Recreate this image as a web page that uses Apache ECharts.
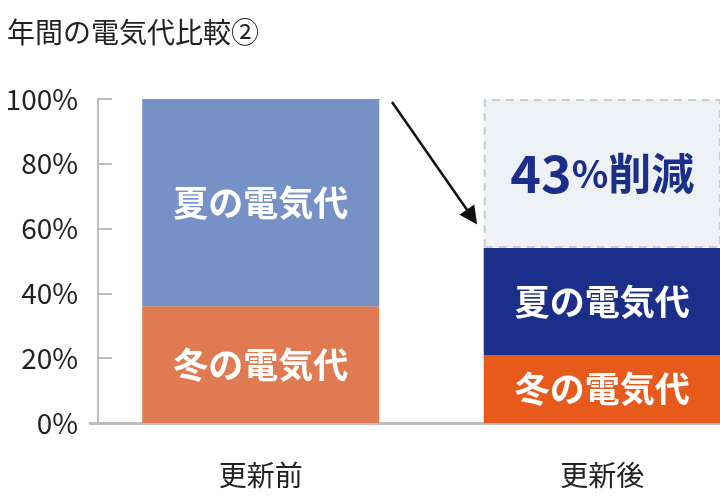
<!DOCTYPE html>
<html>
<head>
<meta charset="utf-8">
<script src="https://cdn.jsdelivr.net/npm/echarts@6/dist/echarts.min.js"></script>
<style>
  html, body { margin: 0; padding: 0; background: #fff; }
  #chart { width: 720px; height: 498px; }
</style>
</head>
<body>
<div id="chart"></div>
<script>
// データ（％）
var categories = ['更新前', '更新後'];
var winterValues = [36, 21];     // 冬の電気代
var summerValues = [64, 33];     // 夏の電気代
var reducedValues = ['-', 46];   // 削減分（空白部分）
var yTicks = [0, 20, 40, 60, 80, 100];

var winterColors = ['#e07a52', '#e85a1c'];
var summerColors = ['#7591c6', '#1b2f8a'];

var FONT = 'Noto Sans CJK JP';

var myChart = echarts.init(document.getElementById('chart'));

function barLabel(text, color) {
    return {
        show: true,
        position: 'inside',
        formatter: text,
        color: color,
        fontFamily: FONT,
        fontWeight: 'bold',
        fontSize: 35
    };
}

var option = {
    animation: false,
    textStyle: { fontFamily: FONT },
    title: {
        text: '年間の電気代比較②',
        left: 2,
        top: 13,
        textStyle: {
            fontFamily: FONT,
            fontSize: 28,
            fontWeight: 'normal',
            color: '#222'
        }
    },
    // 右側のバーは画面の端まで届くので、グリッドは画面外まで伸ばす
    grid: {
        left: 90,
        right: -53,
        top: 99,
        bottom: 75,
        containLabel: false,
        outerBoundsMode: 'none'
    },
    xAxis: {
        type: 'category',
        data: categories,
        axisLine: { show: true, lineStyle: { color: '#bdbdbd', width: 3 } },
        axisTick: { show: false },
        axisLabel: {
            margin: 38,
            fontSize: 28,
            color: '#222',
            fontFamily: FONT
        }
    },
    yAxis: {
        type: 'value',
        min: 0,
        max: 100,
        interval: 20,
        offset: -8,
        splitLine: { show: false },
        axisLine: { show: true, lineStyle: { color: '#bdbdbd', width: 2 } },
        axisTick: { show: true, inside: true, length: 14, lineStyle: { color: '#bdbdbd', width: 2 } },
        axisLabel: {
            margin: 20,
            fontSize: 28,
            color: '#222',
            fontFamily: FONT,
            formatter: function (v) { return yTicks.indexOf(v) >= 0 ? v + '%' : ''; }
        }
    },
    series: [
        {
            name: '冬の電気代',
            type: 'bar',
            stack: 'total',
            barWidth: 237,
            z: 3,
            data: winterValues.map(function (v, i) {
                return { value: v, itemStyle: { color: winterColors[i] } };
            }),
            label: barLabel('冬の電気代', '#fff')
        },
        {
            name: '夏の電気代',
            type: 'bar',
            stack: 'total',
            barWidth: 237,
            z: 3,
            data: summerValues.map(function (v, i) {
                return { value: v, itemStyle: { color: summerColors[i] } };
            }),
            label: barLabel('夏の電気代', '#fff')
        },
        {
            name: '削減',
            type: 'bar',
            stack: 'total',
            barWidth: 237,
            z: 2,
            data: reducedValues,
            itemStyle: {
                color: '#eef2f7',
                borderColor: '#cbcbcb',
                borderWidth: 2,
                borderType: [8, 6]
            },
            label: {
                show: true,
                position: 'inside',
                formatter: '{n|43}{p|%}{k|削減}',
                rich: {
                    n: { fontSize: 52, fontWeight: 'bold', color: '#1b2f8a', fontFamily: FONT },
                    p: { fontSize: 38, fontWeight: 'bold', color: '#1b2f8a', fontFamily: FONT },
                    k: { fontSize: 43, fontWeight: 'bold', color: '#1b2f8a', fontFamily: FONT }
                }
            },
            // 矢印
            markLine: {
                silent: true,
                symbol: ['none', 'triangle'],
                symbolSize: 18,
                label: { show: false },
                lineStyle: { color: '#111', width: 2.5, type: 'solid' },
                data: [[{ x: 392, y: 102 }, { x: 472, y: 217 }]]
            }
        }
    ]
};

myChart.setOption(option);
</script>
</body>
</html>
